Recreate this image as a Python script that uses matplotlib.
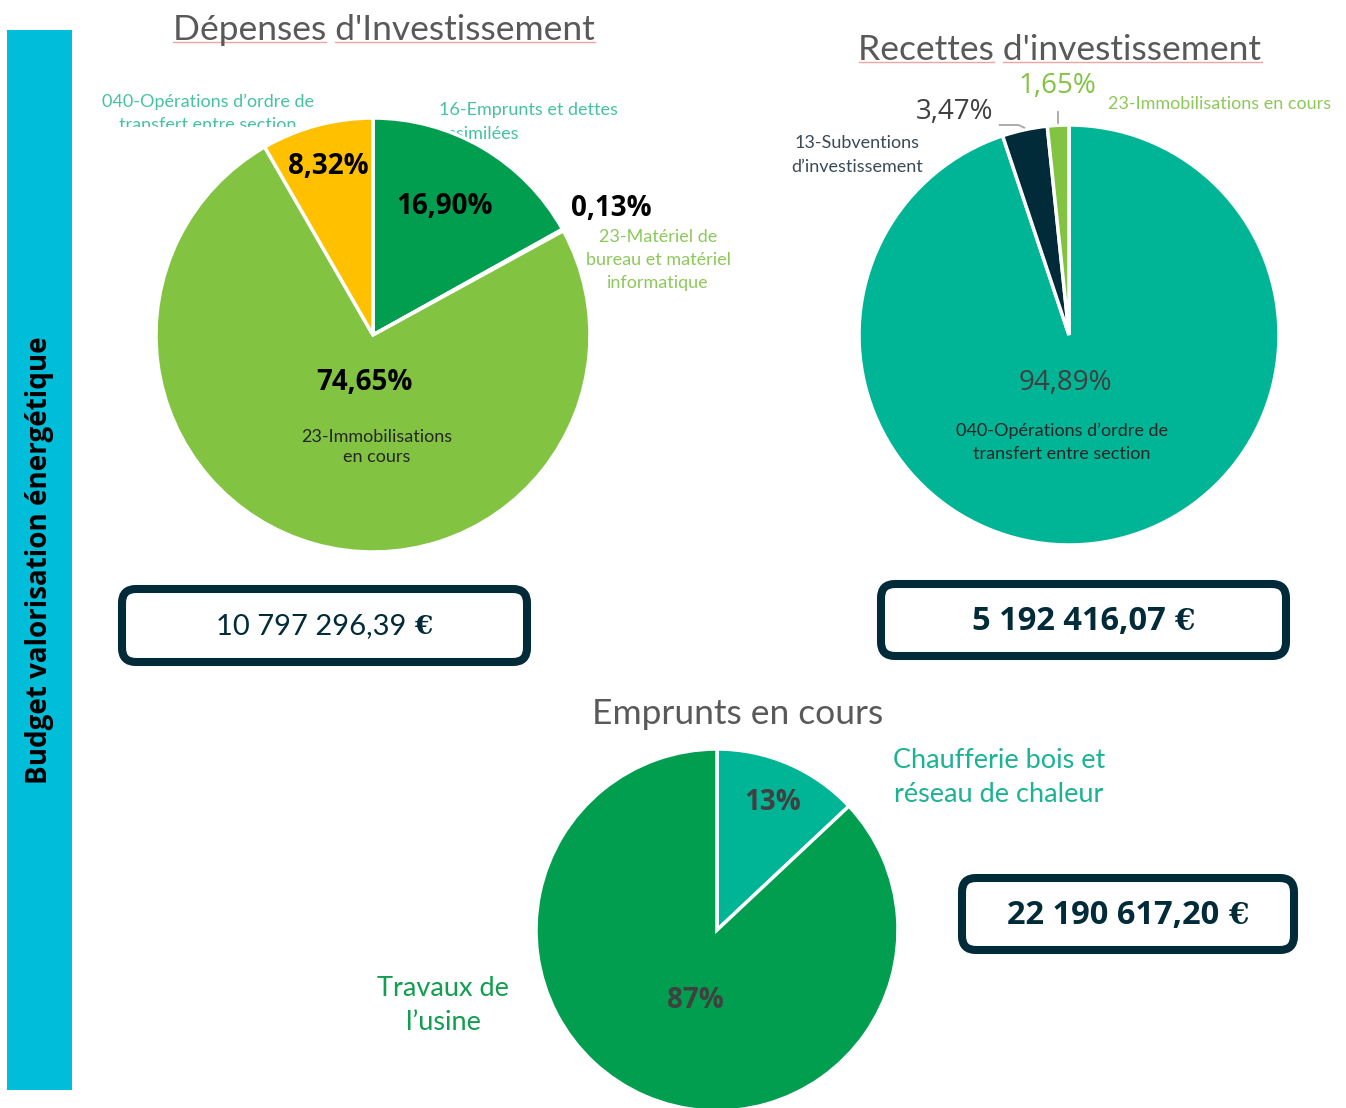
import numpy as np
import matplotlib.pyplot as plt
from matplotlib.patches import FancyBboxPatch, Rectangle

# Dépenses d'investissement
dep_labels = ["16-Emprunts et dettes\nassimilées", "23-Matériel de\nbureau et matériel\ninformatique",
              "23-Immobilisations\nen cours", "040-Opérations d\u2019ordre de\ntransfert entre section"]
dep_values = [16.90, 0.13, 74.65, 8.32]
dep_total = "10 797 296,39"

# Recettes d'investissement
rec_labels = ["040-Opérations d\u2019ordre de\ntransfert entre section", "13-Subventions\nd\u2019investissement",
              "23-Immobilisations en cours"]
rec_values = [94.89, 3.47, 1.65]
rec_total = "5 192 416,07"

# Emprunts en cours
emp_labels = ["Chaufferie bois et\nréseau de chaleur", "Travaux de\nl\u2019usine"]
emp_values = [13, 87]
emp_total = "22 190 617,20"

DKGREEN = "#009E4E"
LTGREEN = "#82C341"
YELLOW = "#FFC000"
TEAL = "#00B496"
NAVY = "#022B3A"
CYAN = "#00BED9"
GREY = "#595959"

W, H = 1346, 1108
fig = plt.figure(figsize=(W / 100, H / 100), dpi=100)
renderer = fig.canvas.get_renderer()
thin = dict(family=["Lato", "DejaVu Sans"], fontweight="normal")
bold = dict(family=["Open Sans", "DejaVu Sans"], fontweight="bold")
plain = dict(family=["Open Sans", "DejaVu Sans"], fontweight="normal")


def overlay():
    ax = fig.add_axes([0, 0, 1, 1])
    ax.set_xlim(0, W)
    ax.set_ylim(H, 0)
    ax.axis("off")
    ax.patch.set_alpha(0)
    return ax


def pie_axes(cx, cy, r):
    return fig.add_axes([(cx - r) / W, 1 - (cy + r) / H, 2 * r / W, 2 * r / H])


def draw_pie(ax, values, colors):
    ax.pie(values, colors=colors, startangle=90, counterclock=False, radius=1,
           wedgeprops=dict(edgecolor="white", linewidth=2.5))
    ax.set_xlim(-1, 1)
    ax.set_ylim(-1, 1)
    ax.axis("off")


def fmt(v):
    return f"{v:.2f}%".replace(".", ",")


def text_width(ax, s, **kw):
    t = ax.text(0, 0, s, **kw)
    w = t.get_window_extent(renderer).width
    t.remove()
    return w


def title(ax, x, y, s, underline=False):
    kw = dict(color=GREY, fontsize=25.5, **thin)
    t = ax.text(x, y, s, ha="center", va="center", **kw)
    if not underline:
        return
    # spell-check marks under each word
    bb = t.get_window_extent(renderer)
    left = bb.x0
    ybase = H - bb.y0 - 4
    words = s.split(" ")
    for i, w in enumerate(words):
        start = left + (text_width(ax, " ".join(words[:i]) + " ", **kw) if i else 0)
        end = left + text_width(ax, " ".join(words[:i + 1]), **kw)
        ax.plot([start, end], [ybase, ybase], color="#F2A3A3", lw=1.0)


def total_box(ax, x0, y0, x1, y1, txt, style, size):
    ax.add_patch(FancyBboxPatch((x0, y0), x1 - x0, y1 - y0,
                                boxstyle="round,pad=0,rounding_size=14",
                                fc="white", ec=NAVY, lw=5.8))
    euro = dict(family=["DejaVu Serif"], fontweight="bold")
    w_num = text_width(ax, txt + " ", fontsize=size, **style)
    w_eur = text_width(ax, "\u20ac", fontsize=size * 0.9, **euro)
    xs = (x0 + x1) / 2 - (w_num + w_eur) / 2
    yc = (y0 + y1) / 2 + 1
    ax.text(xs, yc, txt, ha="left", va="center", color=NAVY, fontsize=size, **style)
    ax.text(xs + w_num, yc, "\u20ac", ha="left", va="center", color=NAVY,
            fontsize=size * 0.9, **euro)


back = overlay()

# labels partly hidden behind the first pie
lab040 = back.text(208, 113, dep_labels[3], ha="center", va="center", color="#45C2A2",
                   fontsize=13, linespacing=1.55, **thin)
lab040.set_clip_on(True)
lab040.set_clip_path(Rectangle((0, 0), W, 127, transform=back.transData))
back.text(439, 122, dep_labels[0], ha="left", va="center", color="#45C2A2",
          fontsize=13, linespacing=1.55, **thin)

# pie 1
ax1 = pie_axes(373, 335, 217)
draw_pie(ax1, dep_values, [DKGREEN, LTGREEN, LTGREEN, YELLOW])

# pie 2
ax2 = pie_axes(1069, 335, 210)
draw_pie(ax2, rec_values, [TEAL, NAVY, LTGREEN])
# leader lines from the two small slices
ang = 90 - np.cumsum([0] + rec_values) / sum(rec_values) * 360
mid_navy = np.deg2rad((ang[1] + ang[2]) / 2)
mid_green = np.deg2rad((ang[2] + ang[3]) / 2)
xn, yn = np.cos(mid_navy), np.sin(mid_navy)
ax2.plot([-0.33, -0.24, xn * 1.01], [1.0, 1.0, yn * 1.01], color="#A6A6A6", lw=1.3, clip_on=False)
xg, yg = np.cos(mid_green), np.sin(mid_green)
ax2.plot([xg * 1.01, xg * 1.01], [yg * 1.01, 1.06], color="#A6A6A6", lw=1.3, clip_on=False)

# pie 3
ax3 = pie_axes(717, 930, 181)
draw_pie(ax3, emp_values, [TEAL, DKGREEN])

front = overlay()

# side band
front.add_patch(Rectangle((7, 30), 65, 1060, color=CYAN, lw=0))
front.text(40, 560, "Budget valorisation énergétique", rotation=90, ha="center",
           va="center", color="black", fontsize=20, **bold)

# titles
title(front, 384, 30, "Dépenses d'Investissement", underline=True)
title(front, 1060, 50, "Recettes d'investissement", underline=True)
title(front, 738, 714, "Emprunts en cours")

# pie 1 labels
front.text(445, 206, fmt(dep_values[0]), ha="center", va="center", color="black", fontsize=20, **bold)
front.text(611, 208, fmt(dep_values[1]), ha="center", va="center", color="black", fontsize=20, **bold)
front.text(364, 383, fmt(dep_values[2]), ha="center", va="center", color="black", fontsize=20, **bold)
front.text(328, 166, fmt(dep_values[3]), ha="center", va="center", color="black", fontsize=20, **bold)
front.text(377, 447, dep_labels[2], ha="center", va="center", color="#262626",
           fontsize=13, linespacing=1.3, **thin)
front.text(658, 260, dep_labels[1], ha="center", va="center", color="#8DC85A",
           fontsize=13, linespacing=1.55, **thin)

# pie 2 labels
front.text(1065, 383, fmt(rec_values[0]), ha="center", va="center", color="#404040",
           fontsize=20, **plain)
front.text(1062, 442, rec_labels[0], ha="center", va="center", color="#262626",
           fontsize=13, linespacing=1.55, **thin)
front.text(955, 112, fmt(rec_values[1]), ha="center", va="center", color="#404040",
           fontsize=20, **plain)
front.text(857, 155, rec_labels[1], ha="center", va="center", color="#3A4A57",
           fontsize=13, linespacing=1.55, **thin)
front.text(1057, 86, fmt(rec_values[2]), ha="center", va="center", color=LTGREEN,
           fontsize=20, **plain)
front.text(1220, 104, rec_labels[2], ha="center", va="center", color="#8DC85A",
           fontsize=13, **thin)

# pie 3 labels
front.text(773, 802, f"{emp_values[0]}%", ha="center", va="center", color="#404040", fontsize=20, **bold)
front.text(695, 1001, f"{emp_values[1]}%", ha="center", va="center", color="#404040", fontsize=20, **bold)
front.text(999, 777, emp_labels[0], ha="center", va="center", color="#1BB394",
           fontsize=19.5, linespacing=1.45, **thin)
front.text(443, 1005, emp_labels[1], ha="center", va="center", color="#129E50",
           fontsize=19.5, linespacing=1.45, **thin)

# totals
total_box(front, 122, 589, 527, 662, dep_total, thin, 21)
total_box(front, 881, 584, 1286, 656, rec_total, bold, 23.5)
total_box(front, 962, 878, 1294, 950, emp_total, bold, 23.5)

fig.savefig("out.png", dpi=100, facecolor="white")
